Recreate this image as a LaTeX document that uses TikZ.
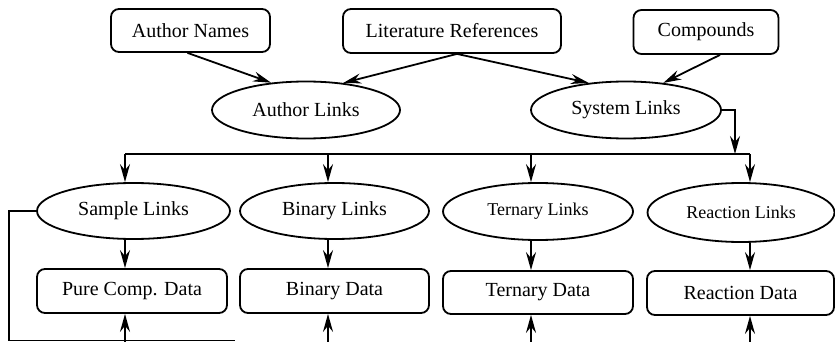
\documentclass[tikz,border=0pt]{standalone}
\usepackage{fontspec}
\setmainfont{Liberation Serif}
\usetikzlibrary{shapes.geometric,arrows.meta,calc}

\begin{document}
\begin{tikzpicture}[x=0.5pt,y=-0.5pt,line width=0.9pt,
  >={Stealth[length=9pt,width=5pt,inset=3pt]},
  txt/.style={font=\fontsize{10}{12}\selectfont},
  smalltxt/.style={font=\fontsize{9}{11}\selectfont},
  databox/.style={draw,rounded corners=4pt,inner sep=0pt,txt},
  linkoval/.style={draw,ellipse,inner sep=0pt,txt}]

\useasboundingbox (0,0) rectangle (835,342);

% source tables
\node[databox,minimum width=79.5pt,minimum height=21.5pt] (an) at (190.5,30.5) {Author Names};
\node[databox,minimum width=109pt,minimum height=22pt] (lr) at (452,31) {Literature References};
\node[databox,minimum width=72.5pt,minimum height=22pt] (cp) at (706,32) {Compounds};

% link tables
\node[linkoval,minimum width=94pt,minimum height=28.5pt] (al) at (306,110) {Author Links};
\node[linkoval,minimum width=95pt,minimum height=28.5pt] (sy) at (626,110) {System Links};

\node[linkoval,minimum width=96.5pt,minimum height=28pt] (sl) at (133.5,211) {Sample Links};
\node[linkoval,minimum width=94.5pt,minimum height=28pt] (bl) at (334.5,211) {Binary Links};
\node[linkoval,smalltxt,minimum width=95pt,minimum height=28.5pt] (tl) at (538,211.5) {Ternary Links};
\node[linkoval,smalltxt,minimum width=93.5pt,minimum height=29.5pt] (rl) at (741,212.5) {Reaction Links};

% data tables
\node[databox,minimum width=95pt,minimum height=22pt] (pc) at (132,291) {Pure Comp. Data};
\node[databox,minimum width=94.5pt,minimum height=22pt] (bd) at (334.5,291) {Binary Data};
\node[databox,minimum width=95pt,minimum height=21.5pt] (td) at (538,292.5) {Ternary Data};
\node[databox,minimum width=93.5pt,minimum height=22pt] (rd) at (740.5,293) {Reaction Data};

% upper connections
\coordinate (lo) at ($(lr.south)+(5,0)$);
\coordinate (co) at ($(cp.south)+(14,0)$);
\draw[->] ($(an.south)+(-3,0)$) -- (al.142);
\draw[->] (lo) -- (al.36);
\draw[->] (lo) -- (sy.144);
\draw[->] (co) -- (sy.36);

% distribution bus
\coordinate (sj) at (735,154);
\coordinate (c1) at (125,154);
\coordinate (c2) at (328,154);
\coordinate (c3) at (531,154);
\coordinate (c4) at (750,154);
\draw[->] (sy.east) -| (sj);
\draw (c1) -- (c4);
\draw[->] (c1) -- (c1 |- sl.north);
\draw[->] (c2) -- (c2 |- bl.north);
\draw[->] (c3) -- (c3 |- tl.north);
\draw[->] (c4) -- (c4 |- rl.north);

% links to data
\draw[->] (c1 |- sl.south) -- (c1 |- pc.north);
\draw[->] (c2 |- bl.south) -- (c2 |- bd.north);
\draw[->] (c3 |- tl.south) -- (c3 |- td.north);
\draw[->] (c4 |- rl.south) -- (c4 |- rd.north);

% incoming from below
\coordinate (d1) at (125,342);
\coordinate (d2) at (328,342);
\coordinate (d3) at (531,342);
\coordinate (d4) at (750,342);
\draw[->] (d1) -- (d1 |- pc.south);
\draw[->] (d2) -- (d2 |- bd.south);
\draw[->] (d3) -- (d3 |- td.south);
\draw[->] (d4) -- (d4 |- rd.south);

% sample loop
\coordinate (lp) at (9,340.5);
\coordinate (le) at (235,340.5);
\draw (sl.west) -| (lp) -- (le);
\end{tikzpicture}
\end{document}
